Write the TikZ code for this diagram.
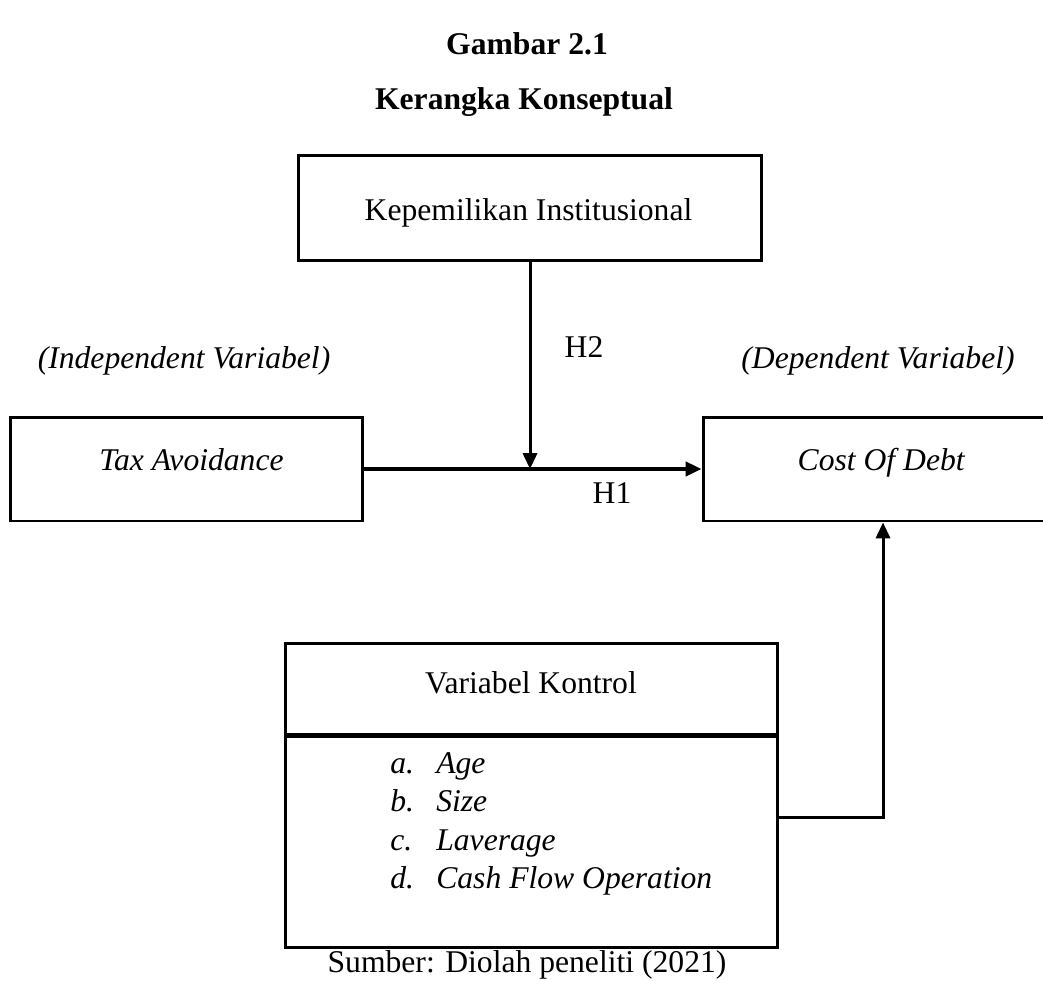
\documentclass[tikz,border=0pt]{standalone}
\usepackage{fontspec}
\setmainfont{Liberation Serif}
\usetikzlibrary{arrows.meta,positioning}

\tikzset{
  teks/.style={font=\fontsize{18}{22}\selectfont, inner sep=0pt, anchor=base},
  kotak/.style={draw, line width=1.7pt, inner sep=0pt},
  panah/.style={line width=1.7pt, -{Triangle[length=9pt,width=8pt]}},
}

\begin{document}
\begin{tikzpicture}[x=0.02cm, y=-0.02cm]
\useasboundingbox (0,0) rectangle (1043,980);

 \node[teks] (judul) at (527,55) {\textbf{Gambar 2.1}};
 \node[teks] (subjudul) at (524,110) {\textbf{Kerangka Konseptual}};

 % kotak variabel
 \node[kotak, minimum width=9.28cm, minimum height=2.12cm] (inst) at (530,208) {};
 \node[kotak, minimum width=7.06cm, minimum height=2.08cm] (tax) at (186.5,469) {};
 \node[kotak, minimum width=7.2cm, minimum height=2.08cm] (cod) at (883,469) {};
 \node[kotak, minimum width=9.86cm, minimum height=1.82cm] (kontrol) at (531.5,688.5) {};
 \node[kotak, minimum width=9.86cm, minimum height=4.22cm, below=0pt of kontrol] (daftar) {};

 \node[teks] (inst-teks) at (528.5,220) {Kepemilikan Institusional};
 \node[teks] (tax-teks) at (191.5,470) {\textit{Tax Avoidance}};
 \node[teks] (cod-teks) at (881.5,470) {\textit{Cost Of Debt}};
 \node[teks] (kontrol-teks) at (531,693) {Variabel Kontrol};
 \node[teks, anchor=base west] (isi) at (390,773) {\itshape
  \begin{tabular}[t]{@{}p{0.92cm}@{}l@{}}
   a. & Age\\
   b. & Size\\
   c. & Laverage\\
   d. & Cash Flow Operation
  \end{tabular}};

 \node[teks] (indep) at (184,368) {\textit{(Independent Variabel)}};
 \node[teks] (dep) at (878,368) {\textit{(Dependent Variabel)}};

 \node[teks] (sumber) at (527,972) {Sumber: Diolah peneliti (2021)};

 % hubungan antar variabel
 \coordinate (temu) at (inst.south |- tax.east);
 \draw[panah, line width=2pt] (tax.east) -- (tax.east -| cod.west);
 \draw[panah] (inst.south) -- (temu);
 \node[teks] (h2) at (584,357) {H2};
 \node[teks] (h1) at (612,503) {H1};

 \coordinate (keluar) at (daftar.east |- 0,817);
 \draw[panah] (keluar) -| (cod.south);

\end{tikzpicture}
\end{document}
